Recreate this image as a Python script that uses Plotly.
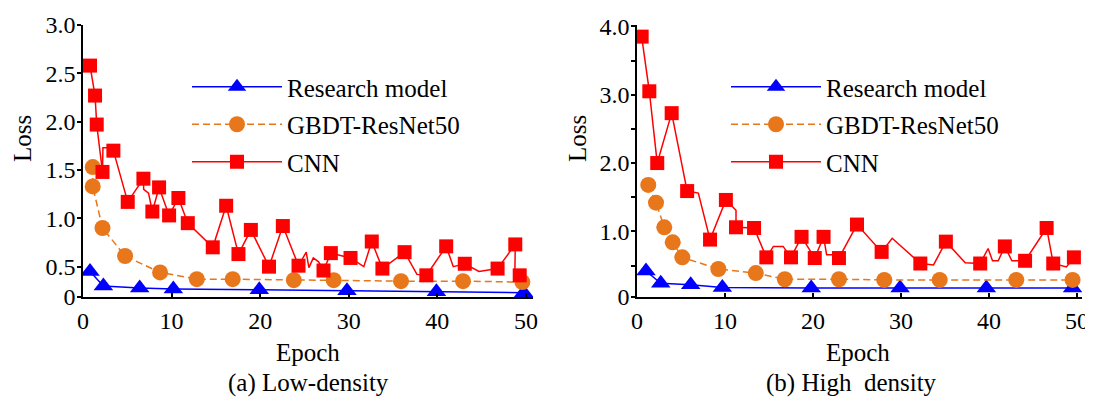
import plotly.graph_objects as go

# ---------------- data: (a) Low-density ----------------
res_low_x = [0.79, 2.3, 6.4, 10.2, 19.9, 29.8, 39.9, 49.75]
res_low_y = [0.45, 0.30, 0.28, 0.27, 0.26, 0.25, 0.24, 0.23]

gbdt_low_x = [1.1, 1.1, 2.2, 4.75, 8.7, 12.85, 16.9, 23.8, 28.3, 35.9, 42.9, 49.6]
gbdt_low_y = [1.53, 1.33, 0.90, 0.61, 0.44, 0.37, 0.37, 0.36, 0.36, 0.35, 0.35, 0.34]

cnn_low_x = [0.79, 1.36, 1.55, 2.2, 2.25, 2.9, 3.43, 5.05, 6.82, 6.85, 7.4, 7.83, 8.59,
             9.72, 10.77, 11.83, 14.65, 16.16, 17.55, 18.95, 21.0, 22.56, 24.33, 25.2,
             25.5, 26.0, 26.6, 27.15, 27.98, 30.2, 31.7, 32.6, 33.8, 36.3, 37.7, 38.76,
             41.0, 41.8, 43.1, 44.7, 46.8, 48.8, 48.75, 49.3]
cnn_low_y = [2.58, 2.27, 1.97, 1.48, 1.73, 1.73, 1.70, 1.17, 1.41, 1.30, 1.26, 1.07, 1.32,
             1.03, 1.21, 0.95, 0.70, 1.13, 0.63, 0.88, 0.50, 0.92, 0.51, 0.65,
             0.49, 0.59, 0.55, 0.46, 0.64, 0.59, 0.50, 0.76, 0.48, 0.65, 0.42, 0.41,
             0.71, 0.50, 0.53, 0.45, 0.48, 0.73, 0.42, 0.41]
cnn_low_marked = [1, 1, 1, 1, 0, 0, 1, 1, 1, 0, 0, 1, 1,
                  1, 1, 1, 1, 1, 1, 1, 1, 1, 1, 0,
                  0, 0, 0, 1, 1, 1, 0, 1, 1, 1, 0, 1,
                  1, 0, 1, 0, 1, 1, 0, 1]

# ---------------- data: (b) High density ----------------
res_high_x = [1.02, 2.7, 6.1, 9.7, 19.8, 29.9, 39.7, 49.5]
res_high_y = [0.42, 0.24, 0.22, 0.18, 0.17, 0.17, 0.17, 0.17]

gbdt_high_x = [1.28, 2.16, 3.1, 4.06, 5.15, 9.24, 13.5, 16.8, 22.95, 28.1, 34.4, 43.1, 49.5]
gbdt_high_y = [1.68, 1.42, 1.06, 0.84, 0.62, 0.45, 0.39, 0.30, 0.30, 0.29, 0.29, 0.29, 0.29]

cnn_high_x = [0.53, 1.4, 2.3, 3.94, 5.7, 6.97, 8.3, 10.1, 11.25, 11.25, 13.3, 14.7, 15.5,
              16.6, 17.5, 18.7, 20.2, 21.2, 21.55, 22.3, 22.95, 25.0, 27.8, 29.0, 32.2,
              33.7, 35.1, 37.3, 39.0, 39.9, 40.4, 41.05, 41.8, 42.6, 44.1, 46.55, 47.3,
              48.8, 49.65]
cnn_high_y = [3.85, 3.05, 2.00, 2.73, 1.59, 1.56, 0.88, 1.46, 1.31, 1.06, 1.05, 0.62, 0.78,
              0.78, 0.62, 0.92, 0.61, 0.92, 0.66, 0.66, 0.61, 1.10, 0.70, 0.90, 0.53,
              0.51, 0.85, 0.54, 0.53, 0.75, 0.57, 0.57, 0.78, 0.57, 0.57, 1.05, 0.53,
              0.48, 0.62]
cnn_high_marked = [1, 1, 1, 1, 1, 0, 1, 1, 0, 1, 1, 1, 0,
                   0, 1, 1, 1, 1, 0, 0, 1, 1, 1, 0, 1,
                   0, 1, 0, 1, 0, 0, 0, 1, 0, 1, 1, 1,
                   0, 1]

# ---------------- axis ticks ----------------
low_tickvals = [0.186, 0.5, 1.0, 1.5, 2.0, 2.5, 3.0]
low_ticktext = ["0", "0.5", "1.0", "1.5", "2.0", "2.5", "3.0"]
high_tickvals = [0.04, 1.0, 2.0, 3.0, 4.0]
high_ticktext = ["0", "1.0", "2.0", "3.0", "4.0"]
high_minor = [0.5, 1.5, 2.5, 3.5]
x_tickvals = [0, 10, 20, 30, 40, 50]

names = ["Research model", "GBDT-ResNet50", "CNN"]
captions = ["(a) Low-density", "(b) High  density"]

BLUE = "#0000FF"
ORANGE = "#E8761A"
RED = "#FF0000"
FONT = "Times New Roman, Liberation Serif, serif"

fig = go.Figure()


def add_panel(xa, ya, legend, rx, ry, gx, gy, cx, cy, cm):
    fig.add_trace(go.Scatter(x=rx, y=ry, mode="lines+markers", name=names[0],
                             xaxis=xa, yaxis=ya, legend=legend, legendgroup=legend + "r",
                             line=dict(color=BLUE, width=1.5),
                             marker=dict(symbol="triangle-up", size=17, color=BLUE)))
    fig.add_trace(go.Scatter(x=gx, y=gy, mode="lines+markers", name=names[1],
                             xaxis=xa, yaxis=ya, legend=legend, legendgroup=legend + "g",
                             line=dict(color=ORANGE, width=1.5, dash="7px,4px"),
                             marker=dict(symbol="circle", size=16, color=ORANGE)))
    fig.add_trace(go.Scatter(x=cx, y=cy, mode="lines", showlegend=False,
                             xaxis=xa, yaxis=ya, line=dict(color=RED, width=1.5)))
    mx = [x for x, m in zip(cx, cm) if m]
    my = [y for y, m in zip(cy, cm) if m]
    fig.add_trace(go.Scatter(x=mx, y=my, mode="markers", showlegend=False,
                             xaxis=xa, yaxis=ya,
                             marker=dict(symbol="square", size=14, color=RED)))
    # legend entry for CNN (line + marker)
    fig.add_trace(go.Scatter(x=[None], y=[None], mode="lines+markers", name=names[2],
                             xaxis=xa, yaxis=ya, legend=legend, legendgroup=legend + "c",
                             line=dict(color=RED, width=1.5),
                             marker=dict(symbol="square", size=14, color=RED)))


add_panel("x", "y", "legend", res_low_x, res_low_y, gbdt_low_x, gbdt_low_y,
          cnn_low_x, cnn_low_y, cnn_low_marked)
add_panel("x2", "y2", "legend2", res_high_x, res_high_y, gbdt_high_x, gbdt_high_y,
          cnn_high_x, cnn_high_y, cnn_high_marked)

# The page body has an 8px margin; layout positions below are given in
# screenshot pixels and converted to paper fractions.
OFF = 8
W, H = 1085, 393


def px(x):
    return (x - OFF) / W


def py(y):
    return (H - (y - OFF)) / H


ydom = [py(297), py(25)]
tickfont = dict(family=FONT, size=24, color="black")

xcommon = dict(showline=True, linecolor="black", linewidth=1.5, ticks="inside",
               ticklen=4, tickwidth=1.5, tickcolor="black", tickvals=x_tickvals,
               tickfont=tickfont, showgrid=False, zeroline=False,
               ticklabelstandoff=1, automargin=False)
ycommon = dict(showline=True, linecolor="black", linewidth=1.5, ticks="outside",
               ticklen=4, tickwidth=1.5, tickcolor="black", tickfont=tickfont,
               showgrid=False, zeroline=False, domain=ydom, automargin=False,
               ticklabelstandoff=-3)

legend_common = dict(font=dict(family=FONT, size=25, color="black"), itemwidth=90,
                     bgcolor="rgba(0,0,0,0)", borderwidth=0, tracegroupgap=2,
                     xanchor="left", yanchor="top", itemclick=False)

fig.update_layout(
    width=W, height=H, margin=dict(l=0, r=0, t=0, b=0, autoexpand=False),
    paper_bgcolor="white", plot_bgcolor="white", showlegend=True,
    xaxis=dict(xcommon, domain=[px(83), px(533)], range=[0, 50.8], anchor="y"),
    yaxis=dict(ycommon, anchor="x", range=[0.186, 3.0], tickvals=low_tickvals,
               ticktext=low_ticktext),
    xaxis2=dict(xcommon, domain=[px(637), px(1082)], range=[0, 50.57], anchor="y2"),
    yaxis2=dict(ycommon, anchor="x2", range=[0.04, 4.02], tickvals=high_tickvals,
                ticktext=high_ticktext,
                minor=dict(tickvals=high_minor, ticks="outside", ticklen=4,
                           tickwidth=1.5, tickcolor="black")),
    legend=dict(legend_common, x=px(187), y=py(64)),
    legend2=dict(legend_common, x=px(726), y=py(64)),
)

ann_font = dict(family=FONT, size=25, color="black")
annotations = [
    dict(text="Loss", x=px(22), y=py(139), textangle=-90),
    dict(text="Loss", x=px(577), y=py(139), textangle=-90),
    dict(text="Epoch", x=px(308), y=py(352)),
    dict(text="Epoch", x=px(858), y=py(352)),
    dict(text=captions[0], x=px(308), y=py(383)),
    dict(text=captions[1], x=px(851), y=py(383)),
]
for a in annotations:
    fig.add_annotation(xref="paper", yref="paper", showarrow=False, font=ann_font,
                       xanchor="center", yanchor="middle", **a)

fig.write_html("out.html")
